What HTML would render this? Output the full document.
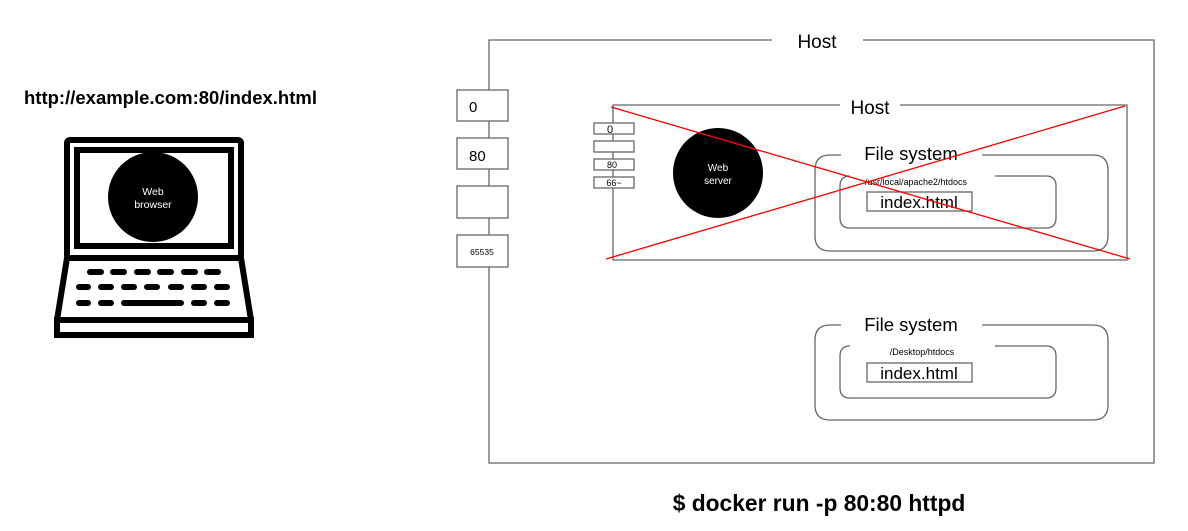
<!DOCTYPE html>
<html><head><meta charset="utf-8"><style>
html,body{margin:0;padding:0;background:#fff;width:1188px;height:531px;overflow:hidden}
svg{display:block}
text{font-family:"Liberation Sans",Arial,sans-serif}
</style></head><body>
<svg width="1188" height="531" viewBox="0 0 1188 531" xmlns="http://www.w3.org/2000/svg">
<text x="24" y="104" font-size="18.5" font-weight="bold">http://example.com:80/index.html</text>
<!-- laptop -->
<rect x="67" y="140" width="174" height="118" rx="3" fill="none" stroke="#000" stroke-width="6"/>
<rect x="77" y="150" width="154" height="96" fill="none" stroke="#000" stroke-width="6"/>
<circle cx="153" cy="197" r="45" fill="#000"/>
<text x="153" y="195" font-size="10.5" fill="#fff" text-anchor="middle">Web</text>
<text x="153" y="208" font-size="10.5" fill="#fff" text-anchor="middle">browser</text>
<path d="M67 258 L241 258 L251 320 L57 320 Z" fill="none" stroke="#000" stroke-width="6" stroke-linejoin="round"/>
<rect x="57" y="320" width="194" height="15" fill="none" stroke="#000" stroke-width="6"/>
<g stroke="#000" stroke-width="6" stroke-linecap="round">
<line x1="90" y1="272" x2="101" y2="272"/><line x1="113" y1="272" x2="124" y2="272"/><line x1="137" y1="272" x2="148" y2="272"/><line x1="160" y1="272" x2="171" y2="272"/><line x1="184" y1="272" x2="195" y2="272"/><line x1="207" y1="272" x2="218" y2="272"/>
<line x1="79" y1="287" x2="88" y2="287"/><line x1="101" y1="287" x2="111" y2="287"/><line x1="124" y1="287" x2="134" y2="287"/><line x1="147" y1="287" x2="157" y2="287"/><line x1="171" y1="287" x2="181" y2="287"/><line x1="194" y1="287" x2="204" y2="287"/><line x1="217" y1="287" x2="227" y2="287"/>
<line x1="79" y1="303" x2="88" y2="303"/><line x1="101" y1="303" x2="111" y2="303"/><line x1="124" y1="303" x2="181" y2="303"/><line x1="194" y1="303" x2="204" y2="303"/><line x1="217" y1="303" x2="227" y2="303"/>
</g>
<!-- outer host -->
<path d="M772 40 L489 40 L489 463 L1154 463 L1154 40 L863 40" fill="none" stroke="#666" stroke-width="1.3"/>
<text x="817" y="48" font-size="19" text-anchor="middle">Host</text>
<g fill="#fff" stroke="#666" stroke-width="1.3">
<rect x="457" y="90" width="51" height="31"/>
<rect x="457" y="138" width="51" height="31"/>
<rect x="457" y="186" width="51" height="32"/>
<rect x="457" y="235" width="51" height="32"/>
</g>
<text x="469" y="112" font-size="15">0</text>
<text x="469" y="161" font-size="15">80</text>
<text x="482" y="255" font-size="8.5" text-anchor="middle">65535</text>
<!-- inner host -->
<path d="M840 105 L613 105 L613 260 L1127 260 L1127 105 L900 105" fill="none" stroke="#666" stroke-width="1.3"/>
<text x="870" y="114" font-size="19" text-anchor="middle">Host</text>
<g fill="#fff" stroke="#666" stroke-width="1.3">
<rect x="594" y="123" width="40" height="11"/>
<rect x="594" y="141" width="40" height="11"/>
<rect x="594" y="159" width="40" height="11"/>
<rect x="594" y="177" width="40" height="11"/>
</g>
<text x="610" y="133" font-size="11" text-anchor="middle">0</text>
<text x="612" y="168" font-size="9" text-anchor="middle">80</text>
<text x="614" y="186" font-size="9" text-anchor="middle">66~</text>
<circle cx="718" cy="173" r="45" fill="#000"/>
<text x="718" y="171" font-size="10" fill="#fff" text-anchor="middle">Web</text>
<text x="718" y="184" font-size="10" fill="#fff" text-anchor="middle">server</text>
<!-- FS 1 -->
<g fill="none" stroke="#666" stroke-width="1.3">
<path d="M841 155 L830 155 Q815 155 815 170 L815 236 Q815 251 830 251 L1093 251 Q1108 251 1108 236 L1108 170 Q1108 155 1093 155 L982 155"/>
<path d="M850 176 Q840 176 840 186 L840 218 Q840 228 850 228 L1046 228 Q1056 228 1056 218 L1056 186 Q1056 176 1046 176 L995 176"/>
<rect x="867" y="192" width="105" height="19"/>
</g>
<text x="911" y="160" font-size="18.5" text-anchor="middle">File system</text>
<text x="916" y="185" font-size="9" text-anchor="middle">/usr/local/apache2/htdocs</text>
<text x="919" y="208" font-size="17" text-anchor="middle">index.html</text>
<!-- FS 2 -->
<g fill="none" stroke="#666" stroke-width="1.3">
<path d="M841 325 L830 325 Q815 325 815 340 L815 405 Q815 420 830 420 L1093 420 Q1108 420 1108 405 L1108 340 Q1108 325 1093 325 L982 325"/>
<path d="M850 346 Q840 346 840 356 L840 388 Q840 398 850 398 L1046 398 Q1056 398 1056 388 L1056 356 Q1056 346 1046 346 L995 346"/>
<rect x="867" y="363" width="105" height="19"/>
</g>
<text x="911" y="331" font-size="18.5" text-anchor="middle">File system</text>
<text x="922" y="355" font-size="9" text-anchor="middle">/Desktop/htdocs</text>
<text x="919" y="379" font-size="17" text-anchor="middle">index.html</text>
<!-- red cross -->
<line x1="611" y1="107" x2="1130" y2="259" stroke="#f00" stroke-width="1.3"/>
<line x1="606" y1="259" x2="1125" y2="106" stroke="#f00" stroke-width="1.3"/>
<text x="819" y="511" font-size="22.8" font-weight="bold" text-anchor="middle">$ docker run -p 80:80 httpd</text>
</svg>
</body></html>
